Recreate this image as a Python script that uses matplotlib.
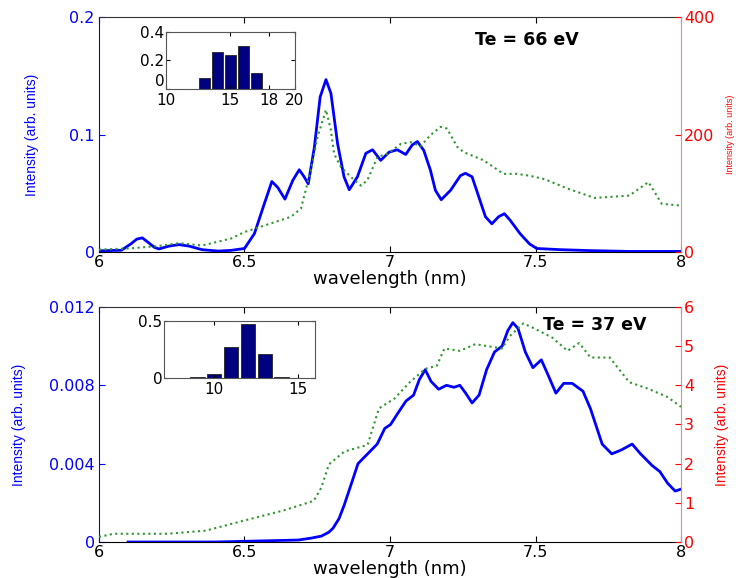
import matplotlib.pyplot as plt

plt.rcParams['font.family'] = ['DejaVu Sans']

# ---- top panel (Te = 66 eV) ----
wl_top_blue = [6.0, 6.077, 6.11, 6.13, 6.149, 6.17, 6.19, 6.206, 6.24, 6.275, 6.31, 6.354, 6.41, 6.454,
               6.5, 6.534, 6.568, 6.594, 6.614, 6.639, 6.666, 6.688, 6.705, 6.719, 6.74, 6.76, 6.78,
               6.797, 6.82, 6.842, 6.86, 6.888, 6.917, 6.94, 6.968, 6.997, 7.025, 7.054, 7.076, 7.094,
               7.116, 7.139, 7.156, 7.176, 7.208, 7.242, 7.259, 7.282, 7.305, 7.328, 7.35, 7.373,
               7.393, 7.413, 7.447, 7.479, 7.504, 7.584, 7.689, 7.82, 8.0]
int_top_blue = [0.001, 0.0015, 0.007, 0.011, 0.012, 0.008, 0.004, 0.0026, 0.005, 0.0063, 0.005, 0.002, 0.0008, 0.0014,
                0.003, 0.0156, 0.041, 0.060, 0.055, 0.045, 0.061, 0.070, 0.064, 0.058, 0.089, 0.132, 0.1467,
                0.135, 0.092, 0.064, 0.053, 0.064, 0.084, 0.087, 0.078, 0.085, 0.087, 0.083, 0.091, 0.094,
                0.0865, 0.0695, 0.0525, 0.0445, 0.0525, 0.065, 0.067, 0.064, 0.047, 0.030, 0.024, 0.030,
                0.0326, 0.027, 0.0156, 0.007, 0.003, 0.002, 0.0012, 0.0005, 0.0005]

wl_top_green = [6.0, 6.1, 6.2, 6.275, 6.354, 6.454, 6.5, 6.568, 6.66, 6.694, 6.728, 6.751, 6.78,
                6.797, 6.808, 6.831, 6.865, 6.9, 6.922, 6.957, 6.991, 7.037, 7.071, 7.105, 7.139,
                7.174, 7.196, 7.231, 7.253, 7.322, 7.39, 7.436, 7.478, 7.531, 7.61, 7.703, 7.822,
                7.888, 7.934, 8.0]
int_top_green = [4, 6, 10, 15, 11, 23, 34, 45, 60, 74, 139, 196, 242,
                 207, 167, 145, 128, 113, 122, 162, 167, 184, 187, 180, 199,
                 213, 210, 179, 170, 156, 133, 133, 130, 124, 108, 92, 96,
                 119, 82, 79]

# ---- bottom panel (Te = 37 eV) ----
wl_bot_blue = [6.1, 6.4, 6.685, 6.73, 6.764, 6.79, 6.804, 6.825, 6.843, 6.87, 6.89, 6.923, 6.956, 6.982,
               7.002, 7.028, 7.055, 7.081, 7.101, 7.121, 7.141, 7.167, 7.194, 7.22, 7.24, 7.26, 7.282,
               7.306, 7.332, 7.359, 7.385, 7.405, 7.422, 7.44, 7.465, 7.491, 7.52, 7.544, 7.57, 7.597,
               7.626, 7.663, 7.689, 7.729, 7.762, 7.795, 7.832, 7.861, 7.901, 7.927, 7.954, 7.98, 8.0]
int_bot_blue = [0.0, 0.0, 0.0001, 0.0002, 0.0003, 0.0005, 0.0007, 0.0012, 0.0019, 0.0031, 0.004, 0.0045, 0.005, 0.0058,
                0.006, 0.0066, 0.0072, 0.0075, 0.0083, 0.0088, 0.0082, 0.0078, 0.008, 0.0079, 0.008, 0.0076, 0.0071,
                0.0075, 0.0088, 0.0097, 0.010, 0.0108, 0.0112, 0.0109, 0.0097, 0.0089, 0.0093, 0.0085, 0.0076, 0.0081,
                0.0081, 0.0077, 0.0068, 0.005, 0.0045, 0.0047, 0.005, 0.0045, 0.0039, 0.0036, 0.003, 0.0026, 0.0027]

wl_bot_green = [6.0, 6.05, 6.235, 6.367, 6.5, 6.632, 6.738, 6.764, 6.79, 6.843, 6.923, 6.962, 7.015,
                7.068, 7.121, 7.161, 7.187, 7.24, 7.293, 7.385, 7.412, 7.458, 7.491, 7.557, 7.61,
                7.65, 7.689, 7.755, 7.822, 7.888, 7.954, 8.0]
int_bot_green = [0.13, 0.21, 0.21, 0.29, 0.55, 0.8, 1.05, 1.39, 1.98, 2.31, 2.48, 3.41, 3.66,
                 4.08, 4.42, 4.5, 4.94, 4.88, 5.05, 4.94, 5.26, 5.58, 5.47, 5.22, 4.88,
                 5.08, 4.71, 4.71, 4.08, 3.91, 3.7, 3.45]

# ---- inset histograms ----
charge_top = [11, 12, 13, 14, 15, 16, 17, 18, 19]
frac_top = [0.0, 0.005, 0.08, 0.26, 0.24, 0.30, 0.11, 0.005, 0.002]
charge_bot = [8, 9, 10, 11, 12, 13, 14, 15]
frac_bot = [0.002, 0.01, 0.04, 0.27, 0.47, 0.21, 0.01, 0.002]

BLUE = '#0000ff'
RED = '#ff0000'
GREEN = '#2e962e'
TFS = 11.5
LBL_FONT = ['Liberation Sans', 'DejaVu Sans']

fig = plt.figure(figsize=(7.36, 5.78), dpi=100)


def panel(rect, wb, yb, wg, yg, lylim, lyticks, lylabels, rylim, ryticks, rlabel_size, rlabel_x, llabel_x):
    ax = fig.add_axes(rect)
    ax.plot(wb, yb, color=BLUE, lw=2, zorder=3)
    ax.set_xlim(6, 8)
    ax.set_ylim(*lylim)
    ax.set_xticks([6, 6.5, 7, 7.5, 8])
    ax.set_xticklabels(['6', '6.5', '7', '7.5', '8'])
    ax.set_yticks(lyticks)
    ax.set_yticklabels(lylabels)
    ax.tick_params(axis='x', direction='in', top=True, length=4, labelsize=TFS, pad=2)
    ax.tick_params(axis='y', direction='in', length=4, labelsize=TFS, colors=BLUE, pad=3)
    ax.spines['left'].set_color(BLUE)
    ax.spines['right'].set_visible(False)
    ax.spines['top'].set_color('#333333')
    ax.set_xlabel('wavelength (nm)', fontsize=13, labelpad=0)
    ax.set_ylabel('Intensity (arb. units)', fontsize=10, color=BLUE, family=LBL_FONT)
    ax.yaxis.set_label_coords(llabel_x, 0.5)

    ax2 = ax.twinx()
    ax2.plot(wg, yg, color=GREEN, lw=1.5, ls=':', zorder=2)
    ax2.set_ylim(*rylim)
    ax2.set_yticks(ryticks)
    ax2.tick_params(axis='y', direction='in', length=4, labelsize=TFS, colors=RED, pad=2)
    ax2.spines['right'].set_color('#ff8080')
    ax2.spines['left'].set_visible(False)
    ax2.spines['top'].set_visible(False)
    ax2.spines['bottom'].set_visible(False)
    ax2.set_ylabel('Intensity (arb. units)', fontsize=rlabel_size, color=RED, family=LBL_FONT)
    ax2.yaxis.set_label_coords(rlabel_x, 0.5)
    return ax, ax2


ax_t, ax_t2 = panel([0.1345, 0.564, 0.7908, 0.4066], wl_top_blue, int_top_blue, wl_top_green, int_top_green,
                    (0, 0.2), [0, 0.1, 0.2], ['0', '0.1', '0.2'], (0, 400), [0, 200, 400], 6.5, 1.077, -0.103)
ax_t.text(0.735, 0.9, 'Te = 66 eV', transform=ax_t.transAxes, fontsize=12.5, fontweight='bold',
          ha='center', va='center')

ax_b, ax_b2 = panel([0.1345, 0.0623, 0.7908, 0.4066], wl_bot_blue, int_bot_blue, wl_bot_green, int_bot_green,
                    (0, 0.012), [0, 0.004, 0.008, 0.012], ['0', '0.004', '0.008', '0.012'],
                    (0, 6), [0, 1, 2, 3, 4, 5, 6], 10, 1.058, -0.125)
ax_b.text(0.852, 0.923, 'Te = 37 eV', transform=ax_b.transAxes, fontsize=12.5, fontweight='bold',
          ha='center', va='center')


def inset(rect, xs, ys, xlim, xticks, ylim, yticks, ylabels):
    ai = fig.add_axes(rect)
    ai.bar(xs, ys, width=0.85, color='#000080', edgecolor='#222222', linewidth=0.6)
    ai.set_xlim(*xlim)
    ai.set_ylim(*ylim)
    ai.set_xticks(xticks)
    ai.set_yticks(yticks)
    ai.set_yticklabels(ylabels)
    ai.tick_params(direction='in', length=3, labelsize=11, pad=1, top=True, right=True)
    ai.tick_params(axis='x', pad=3)
    for s in ai.spines.values():
        s.set_color('#555555')
    return ai


ins_t = inset([0.2251, 0.8455, 0.1757, 0.0997], charge_top, frac_top, (10, 20), [10, 15, 18, 20],
              (0, 0.4), [0, 0.2, 0.4], ['0', '0.2', '0.4'])
ins_t.get_yticklabels()[0].set_verticalalignment('bottom')
inset([0.2228, 0.3455, 0.2052, 0.0997], charge_bot, frac_bot, (7, 16), [10, 15],
      (0, 0.5), [0, 0.5], ['0', '0.5'])

fig.savefig('out.png', dpi=100)
